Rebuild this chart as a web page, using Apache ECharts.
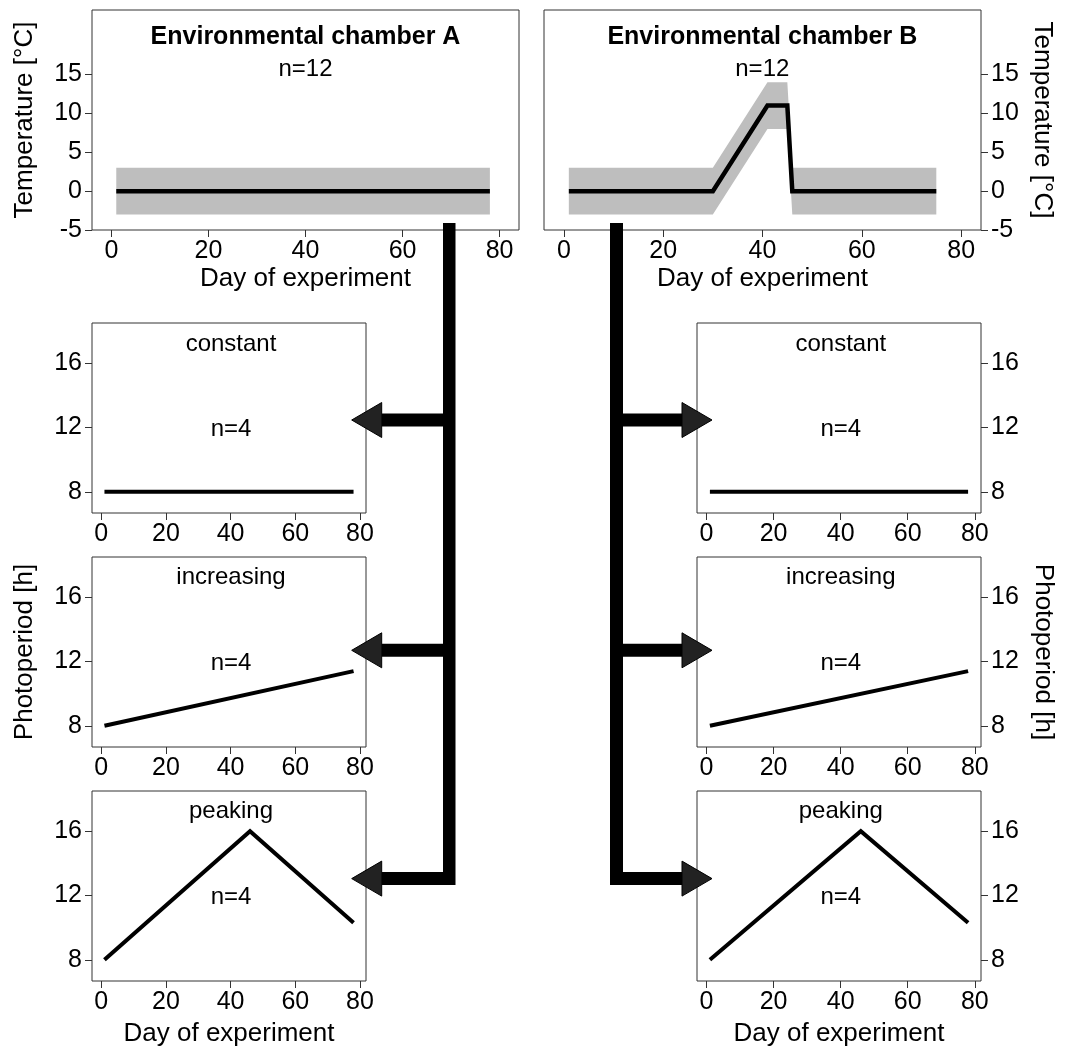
<!DOCTYPE html>
<html>
<head>
<meta charset="utf-8">
<script src="https://cdn.jsdelivr.net/npm/echarts@6/dist/echarts.min.js"></script>
<style>
  html, body { margin: 0; padding: 0; background: #fff; }
  #chart { width: 1069px; height: 1049px; }
</style>
</head>
<body>
<div id="chart"></div>
<script>
// ---- data ----
var dayA = [1, 78];
var tempA = [0, 0];
var dayB = [1, 30, 41, 45, 46, 75];
var tempB = [0, 0, 11, 11, 0, 0];
var bandHalf = 3;               // grey band = mean +/- 3 degC

var dayConst = [1, 78];
var photoConst = [8, 8];
var dayInc = [1, 78];
var photoInc = [8, 11.4];
var dayPeak = [1, 46, 78];
var photoPeak = [8, 16, 10.3];

var dayTicks = [0, 20, 40, 60, 80];
var tempTicks = [-5, 0, 5, 10, 15];
var photoTicks = [8, 12, 16];

var chamberTitles = ['Environmental chamber A', 'Environmental chamber B'];
var chamberN = ['n=12', 'n=12'];
var regimes = ['constant', 'increasing', 'peaking'];
var regimeN = ['n=4', 'n=4', 'n=4'];

var FONT = '"Liberation Sans", Arial, sans-serif';

// grids: 0 A, 1 B, 2-4 left photoperiod, 5-7 right photoperiod
var gridPos = [
  [92, 10, 427, 220],
  [544, 10, 437, 220],
  [92, 323, 274, 190],
  [92, 557, 274, 190],
  [92, 791, 274, 190],
  [697, 323, 284, 190],
  [697, 557, 284, 190],
  [697, 791, 284, 190]
];

var grids = gridPos.map(function (g) {
  return {
    left: g[0], top: g[1], width: g[2], height: g[3],
    show: true, borderColor: '#333', borderWidth: 1, backgroundColor: '#fff',
    containLabel: false, outerBoundsMode: 'none'
  };
});

function nameStyle() {
  return { color: '#000', fontSize: 26, fontFamily: FONT };
}

function xAxisFor(i, min, max, name, gap) {
  return {
    type: 'value', gridIndex: i, min: min, max: max,
    axisLine: { show: false, onZero: false },
    splitLine: { show: false },
    axisTick: { show: true, length: 7, lineStyle: { color: '#333' }, customValues: dayTicks },
    axisLabel: { color: '#000', fontSize: 25, fontFamily: FONT, margin: 9, customValues: dayTicks },
    name: name || '', nameLocation: 'middle', nameGap: gap || 0, nameTextStyle: nameStyle()
  };
}

function yAxisFor(i, min, max, ticks, pos, name, gap, rot) {
  var ax = {
    type: 'value', gridIndex: i, min: min, max: max, position: pos,
    axisLine: { show: false, onZero: false },
    splitLine: { show: false },
    axisTick: { show: true, length: 7, lineStyle: { color: '#333' }, customValues: ticks },
    axisLabel: { color: '#000', fontSize: 25, fontFamily: FONT, margin: 10, customValues: ticks },
    name: name || '', nameLocation: 'middle', nameGap: gap || 0, nameTextStyle: nameStyle()
  };
  if (rot != null) ax.nameRotate = rot;
  return ax;
}

var xMinP = -2.85, xMaxP = 81.85, yMinP = 6.68, yMaxP = 18.5;

var xAxes = [
  xAxisFor(0, -4, 84, 'Day of experiment', 36),
  xAxisFor(1, -4, 84, 'Day of experiment', 36),
  xAxisFor(2, xMinP, xMaxP),
  xAxisFor(3, xMinP, xMaxP),
  xAxisFor(4, xMinP, xMaxP, 'Day of experiment', 40),
  xAxisFor(5, xMinP, xMaxP),
  xAxisFor(6, xMinP, xMaxP),
  xAxisFor(7, xMinP, xMaxP, 'Day of experiment', 40)
];

var yAxes = [
  yAxisFor(0, -5, 23.3, tempTicks, 'left', 'Temperature [°C]', 54),
  yAxisFor(1, -5, 23.3, tempTicks, 'right', 'Temperature [°C]', 48, -90),
  yAxisFor(2, yMinP, yMaxP, photoTicks, 'left'),
  yAxisFor(3, yMinP, yMaxP, photoTicks, 'left', 'Photoperiod [h]', 54),
  yAxisFor(4, yMinP, yMaxP, photoTicks, 'left'),
  yAxisFor(5, yMinP, yMaxP, photoTicks, 'right'),
  yAxisFor(6, yMinP, yMaxP, photoTicks, 'right', 'Photoperiod [h]', 49, -90),
  yAxisFor(7, yMinP, yMaxP, photoTicks, 'right')
];

function toPairs(xs, ys) {
  return xs.map(function (x, k) { return [x, ys[k]]; });
}

function bandSeries(i, days, temps) {
  return {
    type: 'custom', xAxisIndex: i, yAxisIndex: i, z: 1, silent: true,
    data: [[days[0], temps[0]]],
    renderItem: function (params, api) {
      var up = days.map(function (d, k) { return api.coord([d, temps[k] + bandHalf]); });
      var lo = days.map(function (d, k) { return api.coord([d, temps[k] - bandHalf]); }).reverse();
      return { type: 'polygon', shape: { points: up.concat(lo) }, style: { fill: '#bebebe' } };
    }
  };
}

function lineSeries(i, days, vals, w) {
  return {
    type: 'line', xAxisIndex: i, yAxisIndex: i, z: 3, symbol: 'none', silent: true,
    lineStyle: { color: '#000', width: w || 4, cap: 'butt', join: 'miter' },
    data: toPairs(days, vals)
  };
}

var series = [
  bandSeries(0, dayA, tempA), lineSeries(0, dayA, tempA, 4.5),
  bandSeries(1, dayB, tempB), lineSeries(1, dayB, tempB, 4.5),
  lineSeries(2, dayConst, photoConst),
  lineSeries(3, dayInc, photoInc),
  lineSeries(4, dayPeak, photoPeak),
  lineSeries(5, dayConst, photoConst),
  lineSeries(6, dayInc, photoInc),
  lineSeries(7, dayPeak, photoPeak)
];

// ---- in-panel text ----
function label(text, x, y, size, weight) {
  return {
    type: 'text', z: 50, silent: true,
    style: {
      text: text, x: x, y: y, fill: '#000',
      font: (weight || 'normal') + ' ' + size + 'px ' + FONT,
      textAlign: 'center', textVerticalAlign: 'middle'
    }
  };
}

var graphics = [];
var chamberX = [305.5, 762.3];
chamberX.forEach(function (cx, k) {
  graphics.push(label(chamberTitles[k], cx, 37, 25, 'bold'));
  graphics.push(label(chamberN[k], cx, 69, 24));
});
var regimeTitleY = [344, 577.5, 811.5];
var regimeNY = [429.7, 663.3, 897.2];
[231, 840.8].forEach(function (cx) {
  regimes.forEach(function (r, k) {
    graphics.push(label(r, cx, regimeTitleY[k], 24));
    graphics.push(label(regimeN[k], cx, regimeNY[k], 24));
  });
});

// ---- connector arrows ----
var arrowY = [420, 650.3, 878.6];
var barTop = 223, barBottom = 885, shaftH = 13, headHalf = 17.5;
function arrowSet(barX, barW, dir) {
  // dir = -1 arrows point left, +1 point right
  var out = [];
  out.push({ type: 'rect', z: 60, silent: true,
    shape: { x: barX, y: barTop, width: barW, height: barBottom - barTop },
    style: { fill: '#000' } });
  arrowY.forEach(function (cy) {
    var baseX, tipX, sx, sw;
    if (dir < 0) { baseX = 381.7; tipX = 351.7; sx = baseX; sw = barX - baseX + 1; }
    else { baseX = 682; tipX = 712; sx = barX + barW - 1; sw = baseX - sx; }
    out.push({ type: 'rect', z: 60, silent: true,
      shape: { x: sx, y: cy - shaftH / 2, width: sw, height: shaftH },
      style: { fill: '#000' } });
    out.push({ type: 'polygon', z: 61, silent: true,
      shape: { points: [[tipX, cy], [baseX, cy - headHalf], [baseX, cy + headHalf]] },
      style: { fill: '#222', stroke: '#000', lineWidth: 1 } });
  });
  return out;
}
graphics = graphics.concat(arrowSet(443, 12.5, -1), arrowSet(610, 13, 1));

var chart = echarts.init(document.getElementById('chart'));
chart.setOption({
  animation: false,
  backgroundColor: '#fff',
  grid: grids,
  xAxis: xAxes,
  yAxis: yAxes,
  series: series,
  graphic: graphics
});
</script>
</body>
</html>
